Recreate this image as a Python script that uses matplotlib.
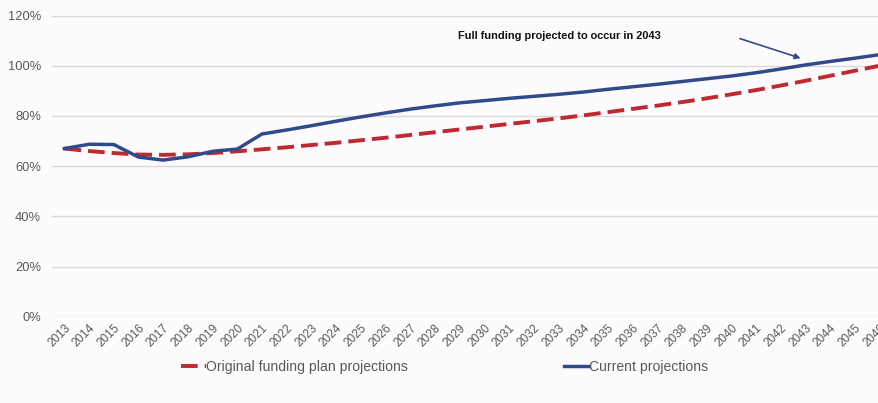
import matplotlib
matplotlib.use('Agg')
import matplotlib.pyplot as plt
from matplotlib.ticker import PercentFormatter

years = [str(y) for y in range(2013, 2047)]
original_plan = [67.0, 66.0, 65.2, 64.6, 64.5, 64.7, 65.2, 65.9, 66.7, 67.5,
                 68.4, 69.3, 70.3, 71.3, 72.4, 73.5, 74.6, 75.7, 76.8, 77.9,
                 79.0, 80.2, 81.5, 82.8, 84.1, 85.5, 87.0, 88.6, 90.3, 92.1,
                 94.0, 96.0, 98.0, 100.0]
current = [67.0, 68.7, 68.6, 63.6, 62.4, 63.7, 65.9, 66.8, 72.8, 74.4,
           76.1, 77.9, 79.6, 81.2, 82.7, 84.0, 85.2, 86.1, 87.0, 87.8,
           88.6, 89.5, 90.6, 91.6, 92.6, 93.7, 94.8, 95.9, 97.2, 98.7,
           100.3, 101.7, 103.0, 104.4]
annotation = 'Full funding projected to occur in 2043'

plt.rcParams['font.family'] = ['Liberation Sans', 'DejaVu Sans']
bg = '#fdfbfd'
grey = '#595959'

fig = plt.figure(figsize=(8.79, 4.03), dpi=100, facecolor=bg)
ax = fig.add_axes([0.0592, 0.2141, 0.9555, 0.7474], facecolor=bg)

x = list(range(len(years)))
ax.plot(x, original_plan, color='#be2a2f', linewidth=2.8, dashes=(4.3, 1.8),
        label='Original funding plan projections', zorder=3)
ax.plot(x, current, color='#2f4b8c', linewidth=2.5,
        label='Current projections', zorder=4)

ax.set_xlim(-0.5, len(years) - 0.5)
ax.set_ylim(0, 120)
ax.set_yticks(range(0, 121, 20))
ax.yaxis.set_major_formatter(PercentFormatter(decimals=0))
ax.set_xticks(x)
ax.set_xticklabels(years, rotation=45, ha='right', rotation_mode='anchor')
ax.tick_params(axis='x', labelsize=8.5, colors=grey, length=0, pad=4)
ax.tick_params(axis='y', labelsize=9.3, colors=grey, length=0, pad=8)
ax.grid(axis='y', color='#d9d9d9', linewidth=1)
ax.set_axisbelow(True)
for s in ax.spines.values():
    s.set_visible(False)

ax.annotate('', xy=(29.8, 103.0), xytext=(27.35, 110.8),
            arrowprops=dict(arrowstyle='-|>', color='#2f4b8c', lw=1.2,
                            mutation_scale=8, shrinkA=0, shrinkB=0))
ax.text(15.95, 111.7, annotation, fontsize=7.9, fontweight='bold',
        color='#111111', va='center', ha='left')

fig.legend(loc='center', bbox_to_anchor=(0.506, 0.09), ncol=2, frameon=False,
           fontsize=10.1, labelcolor=grey, handlelength=1.75, handletextpad=0.05,
           columnspacing=11.1)

fig.savefig('out.png', dpi=100, facecolor=bg)
